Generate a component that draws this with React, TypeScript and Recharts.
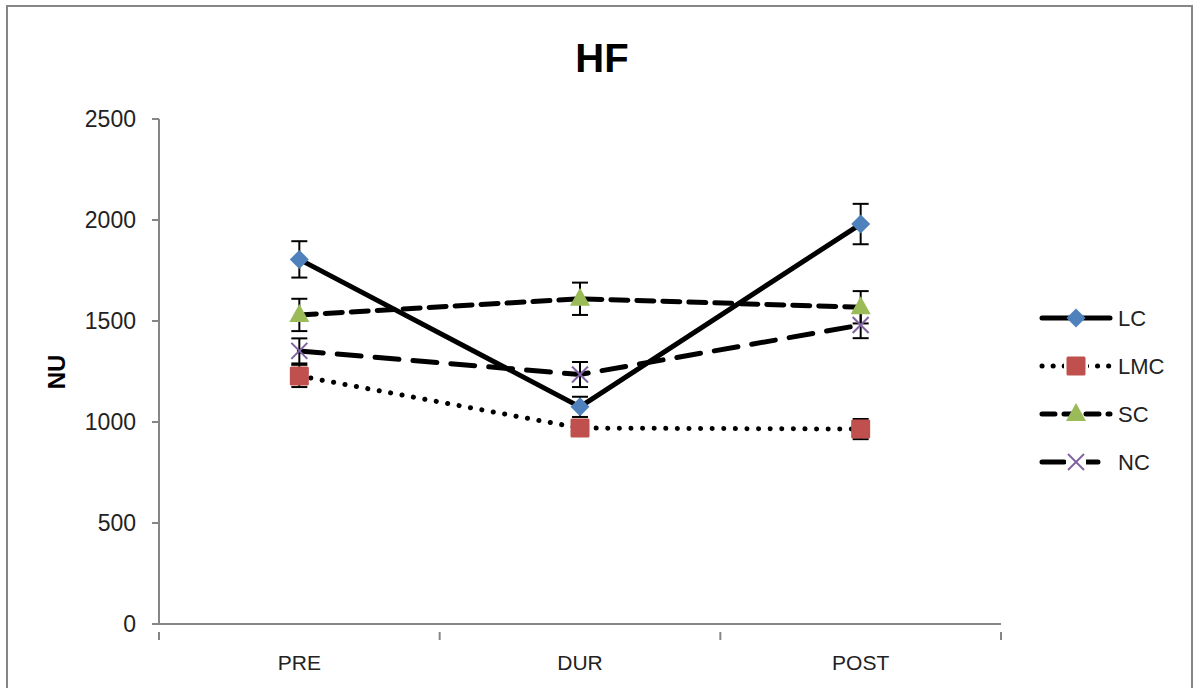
import { LineChart, Line, XAxis, YAxis, ErrorBar } from 'recharts';

const categories = ['PRE', 'DUR', 'POST'];

const lcValues = [1805, 1075, 1980];
const lcErrors = [90, 50, 100];
const lmcValues = [1228, 970, 965];
const lmcErrors = [55, 30, 50];
const scValues = [1530, 1610, 1568];
const scErrors = [80, 80, 80];
const ncValues = [1352, 1235, 1480];
const ncErrors = [62, 62, 65];

const yTicks = [0, 500, 1000, 1500, 2000, 2500];

const FONT = '"Liberation Sans", Arial, sans-serif';
const AXIS_COLOR = '#868686';

const SERIES = [
  { key: 'lc', name: 'LC', color: '#4F81BD', dash: undefined as string | undefined, legendDash: undefined as string | undefined, marker: 'diamond' },
  { key: 'lmc', name: 'LMC', color: '#C0504D', dash: '0.1 11.5', legendDash: '0.1 11', marker: 'square' },
  { key: 'sc', name: 'SC', color: '#9BBB59', dash: '17 9', legendDash: '13 9', marker: 'triangle' },
  { key: 'nc', name: 'NC', color: '#8064A2', dash: '24 14', legendDash: '22 12', marker: 'cross' },
];

const data = categories.map((cat, i) => ({
  x: i + 0.5,
  cat,
  lc: lcValues[i],
  lcErr: lcErrors[i],
  lmc: lmcValues[i],
  lmcErr: lmcErrors[i],
  sc: scValues[i],
  scErr: scErrors[i],
  nc: ncValues[i],
  ncErr: ncErrors[i],
}));

function Marker({ type, cx, cy, color }: { type: string; cx: number; cy: number; color: string }) {
  if (type === 'diamond') {
    const r = 9.5;
    return <path d={`M${cx},${cy - r}L${cx + r},${cy}L${cx},${cy + r}L${cx - r},${cy}Z`} fill={color} />;
  }
  if (type === 'square') {
    const r = 9.5;
    return <rect x={cx - r} y={cy - r} width={2 * r} height={2 * r} rx={1.5} fill={color} />;
  }
  if (type === 'triangle') {
    return <path d={`M${cx},${cy - 11}L${cx + 10},${cy + 7}L${cx - 10},${cy + 7}Z`} fill={color} />;
  }
  const r = 8;
  return (
    <g stroke={color} strokeWidth={2}>
      <line x1={cx - r} y1={cy - r} x2={cx + r} y2={cy + r} />
      <line x1={cx - r} y1={cy + r} x2={cx + r} y2={cy - r} />
    </g>
  );
}

function makeDot(type: string, color: string) {
  return (props: any) => {
    const { cx, cy, index } = props;
    if (cx == null || cy == null) return <g key={index} />;
    return (
      <g key={index}>
        <Marker type={type} cx={cx} cy={cy} color={color} />
      </g>
    );
  };
}

function XTick(props: any) {
  const { x, y, payload } = props;
  const v = payload.value as number;
  if (Number.isInteger(v)) {
    return <line x1={x} y1={y} x2={x} y2={y + 8} stroke={AXIS_COLOR} strokeWidth={2} />;
  }
  return (
    <text x={x} y={y + 38} textAnchor="middle" fontFamily={FONT} fontSize={21} fill="#222">
      {categories[Math.floor(v)]}
    </text>
  );
}

function ChartLegend() {
  return (
    <svg width={150} height={200}>
      {SERIES.map((s, i) => {
        const y = 23 + i * 48;
        return (
          <g key={s.key}>
            <line
              x1={10}
              y1={y}
              x2={78}
              y2={y}
              stroke="#000"
              strokeWidth={5}
              strokeDasharray={s.legendDash}
              strokeLinecap="round"
            />
            {s.key === 'nc' && <rect x={34} y={y - 6} width={20} height={12} fill="#fff" />}
            {s.key === 'lmc' && <rect x={32} y={y - 6} width={24} height={12} fill="#fff" />}
            <Marker type={s.marker} cx={44} cy={y} color={s.color} />
            <text x={86} y={y + 8} fontFamily={FONT} fontSize={22} fill="#222">
              {s.name}
            </text>
          </g>
        );
      })}
    </svg>
  );
}

export default function App() {
  return (
    <div style={{ position: 'absolute', left: 0, top: 0, width: 1197, height: 688, background: '#fff', overflow: 'hidden' }}>
      <div
        style={{
          position: 'absolute',
          left: 6,
          top: 5,
          width: 1187,
          height: 700,
          border: `2px solid ${AXIS_COLOR}`,
          boxSizing: 'border-box',
        }}
      />
      <div
        style={{
          position: 'absolute',
          left: 0,
          top: 36,
          width: 1204,
          textAlign: 'center',
          fontFamily: FONT,
          fontWeight: 'bold',
          fontSize: 40,
          lineHeight: '44px',
          color: '#000',
        }}
      >
        HF
      </div>
      <div
        style={{
          position: 'absolute',
          left: 57,
          top: 372,
          transform: 'translate(-50%, -50%) rotate(-90deg)',
          fontFamily: FONT,
          fontWeight: 'bold',
          fontSize: 24,
          lineHeight: '26px',
          color: '#000',
        }}
      >
        NU
      </div>
      <div style={{ position: 'absolute', left: 0, top: 0 }}>
        <LineChart width={1197} height={688} data={data} margin={{ top: 119, right: 196, bottom: 24, left: 99 }}>
          <XAxis
            dataKey="x"
            type="number"
            domain={[0, 3]}
            ticks={[0, 0.5, 1, 1.5, 2, 2.5, 3]}
            tick={<XTick />}
            tickLine={false}
            axisLine={{ stroke: AXIS_COLOR, strokeWidth: 2 }}
            height={40}
            interval={0}
          />
          <YAxis
            type="number"
            domain={[0, 2500]}
            ticks={yTicks}
            width={60}
            tickSize={7}
            tickMargin={16}
            tickLine={{ stroke: AXIS_COLOR, strokeWidth: 2 }}
            axisLine={{ stroke: AXIS_COLOR, strokeWidth: 2 }}
            tick={{ fontFamily: FONT, fontSize: 23, fill: '#222' }}
          />
          {SERIES.map((s) => (
            <Line
              key={s.key}
              dataKey={s.key}
              name={s.name}
              stroke="#000"
              strokeWidth={5}
              strokeDasharray={s.dash}
              strokeLinecap="round"
              dot={false}
              activeDot={false}
              isAnimationActive={false}
            >
              <ErrorBar dataKey={`${s.key}Err`} direction="y" width={8} strokeWidth={2} stroke="#000" />
            </Line>
          ))}
          {SERIES.map((s) => (
            <Line
              key={`${s.key}-markers`}
              dataKey={s.key}
              stroke="none"
              dot={makeDot(s.marker, s.color)}
              activeDot={false}
              legendType="none"
              isAnimationActive={false}
            />
          ))}
        </LineChart>
      </div>
      <div style={{ position: 'absolute', left: 1032, top: 295 }}>
        <ChartLegend />
      </div>
    </div>
  );
}
